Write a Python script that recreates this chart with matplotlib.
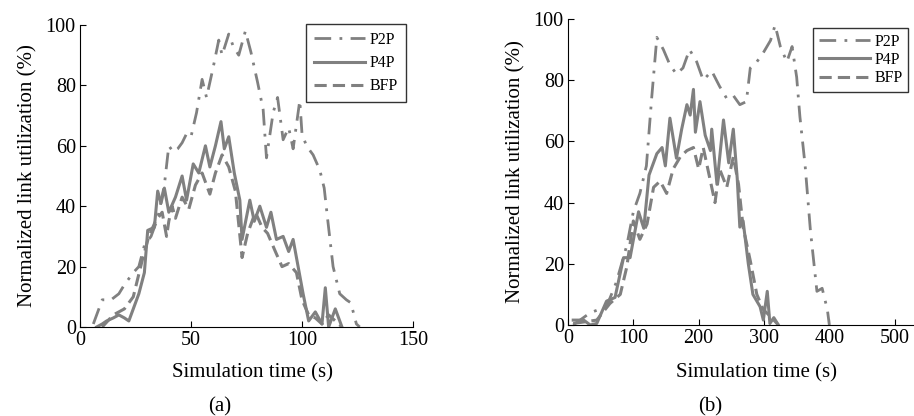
import matplotlib
matplotlib.use("Agg")
import matplotlib.pyplot as plt

plt.rcParams['font.family'] = ['Liberation Serif', 'DejaVu Serif']

# ---- panel (a) ----
a_p2p_t = [6, 10, 14, 17.5, 20, 22, 24, 26.5, 29, 32, 35, 38, 40, 42, 44, 46, 48, 50, 52.5, 55, 57, 60,
           62.5, 64, 67, 69, 71.5, 74.5, 77, 80, 82.5, 84, 87, 89, 91.5, 94, 96, 99, 100, 102, 105,
           108, 110, 111.5, 114, 117, 120, 122, 124.5, 126]
a_p2p = [1, 9, 9, 11, 14, 16, 18, 20, 27, 30, 36, 47, 60, 58, 59, 61, 64, 63, 71, 82, 76, 86,
         95, 90, 97, 93, 90, 98, 91, 81, 72, 56, 71, 76, 62, 66, 59, 75, 64, 60, 57,
         52, 46, 36, 20, 11, 9, 8, 1, 0]

a_p4p_t = [7.5, 10, 12, 15, 17.5, 20, 22, 24, 26.5, 29, 30.5, 33.5, 35, 36.5, 38, 40, 43, 46, 48, 51,
           53.5, 56.5, 58.5, 61, 63.5, 65, 67, 69.5, 72, 73, 76.5, 78.5, 81, 84, 86, 88.5, 91.5,
           94, 96, 97.5, 100.5, 103, 106, 109, 110.5, 112, 115, 118]
a_p4p = [0, 1, 2, 3, 4, 3, 2, 6, 11, 18, 32, 33, 45, 41, 46, 38, 43, 50, 42, 54,
         51, 60, 53, 60, 68, 59, 63, 51, 42, 29, 42, 35, 40, 33, 38, 29, 30,
         25, 29, 23, 11, 2, 5, 1, 13, 0, 6, 0]

a_bfp_t = [10, 15, 20, 24, 28, 31, 34, 37, 39, 40, 41.5, 43, 46, 49, 52, 55, 58.5, 61, 64, 67, 70,
           73, 75.5, 79, 82, 84.5, 88, 91, 94, 97.5, 100, 103, 106, 109, 112, 115, 118]
a_bfp = [0, 4, 6, 10, 22, 30, 35, 38, 30, 35, 40, 36, 43, 39, 47, 51, 44, 51, 57, 53, 45,
         23, 31, 38, 33, 31, 25, 20, 21, 18, 9, 4, 3, 1, 4, 2, 0]

# ---- panel (b) ----
b_p2p_t = [8, 34, 59, 74, 90, 100, 110, 120, 128, 136, 146, 156, 166, 176, 186, 197, 207, 220, 232,
           243, 253, 263, 273, 279, 289, 299, 310, 317, 325, 335, 343, 350, 355, 363, 371, 381,
           389, 397, 400]
b_p2p = [0, 4, 6, 14, 26, 37, 43, 52, 74, 94, 90, 85, 82, 84, 90, 86, 80, 83, 78,
         74, 75, 72, 73, 84, 86, 89, 93, 98, 91, 86, 91, 81, 68, 52, 31, 11,
         12, 5, 0]

b_p4p_t = [8, 24, 34, 44, 59, 72, 85, 95, 108, 116, 124, 136, 144, 149, 156, 166, 174, 182, 187, 192,
           195, 202, 210, 218, 220, 228, 238, 246, 253, 259, 263, 268, 276, 283, 294, 299, 305,
           309, 315, 322]
b_p4p = [1.6, 1.6, 0, 0.5, 7.8, 9, 22, 22, 37, 31.6, 49, 56, 58, 52, 67.6, 54.5, 64, 72, 68.6, 77,
         63, 73, 62, 57, 64, 46, 67, 53, 64, 48, 32, 34, 20, 10, 6, 1.6, 11,
         0.5, 2.4, 0]

b_bfp_t = [8, 44, 64, 80, 90, 100, 110, 121, 131, 141, 151, 161, 172, 182, 192, 200, 207, 218, 225,
           232, 243, 253, 261, 268, 279, 289, 299, 309, 322]
b_bfp = [0.5, 1.6, 7, 10, 19, 34, 28, 33, 45, 47, 43, 51, 55, 57, 58, 51, 58, 47, 40,
         51, 45, 55, 46, 32, 21, 10, 5, 3, 0]

gray = '#808080'

fig = plt.figure(figsize=(9.14, 4.16), dpi=100)
ax1 = fig.add_axes([80/914, 89/416, 333/914, 302/416])
ax2 = fig.add_axes([568/914, 91/416, 392/914, 306/416])


def draw(ax, series, xlim, xticks):
    for t, y, ls, lw, lab in series:
        ax.plot(t, y, color=gray, linestyle=ls, linewidth=lw, label=lab)
    ax.set_xlim(*xlim)
    ax.set_ylim(0, 100)
    ax.set_xticks(xticks)
    ax.set_yticks([0, 20, 40, 60, 80, 100])
    for s in ['top', 'right']:
        ax.spines[s].set_visible(False)
    ax.tick_params(direction='in', length=4, labelsize=14.5, pad=3)
    ax.set_ylabel('Normalized link utilization (%)', fontsize=15, labelpad=6)


draw(ax1, [(a_p2p_t, a_p2p, (0, (6, 3, 1, 3)), 2.0, 'P2P'),
           (a_p4p_t, a_p4p, '-', 2.2, 'P4P'),
           (a_bfp_t, a_bfp, (0, (4, 2)), 2.2, 'BFP')],
     (0, 150), [0, 50, 100, 150])
draw(ax2, [(b_p2p_t, b_p2p, (0, (6, 3, 1, 3)), 2.0, 'P2P'),
           (b_p4p_t, b_p4p, '-', 2.2, 'P4P'),
           (b_bfp_t, b_bfp, (0, (4, 2)), 2.2, 'BFP')],
     (0, 600), [0, 100, 200, 300, 400, 500])

leg1 = ax1.legend(loc='upper left', bbox_to_anchor=(306/914, 1 - 24/416), bbox_transform=fig.transFigure,
                  borderaxespad=0, fancybox=False, edgecolor='black', fontsize=11.5,
                  handlelength=3.2, labelspacing=0.45, borderpad=0.5, handletextpad=0.3)
leg1.get_frame().set_linewidth(1.0)
leg2 = ax2.legend(loc='upper left', bbox_to_anchor=(813/914, 1 - 28/416), bbox_transform=fig.transFigure,
                  borderaxespad=0, fancybox=False, edgecolor='black', fontsize=11.5,
                  handlelength=3.2, labelspacing=0.15, borderpad=0.35, handletextpad=0.3)
leg2.get_frame().set_linewidth(1.0)

fig.text(252/914, 1 - 373/416, 'Simulation time (s)', ha='center', va='center', fontsize=15)
fig.text(757/914, 1 - 373/416, 'Simulation time (s)', ha='center', va='center', fontsize=15)
fig.text(220/914, 1 - 407/416, '(a)', ha='center', va='center', fontsize=15)
fig.text(710/914, 1 - 407/416, '(b)', ha='center', va='center', fontsize=15)

fig.savefig('out.png', dpi=100)
